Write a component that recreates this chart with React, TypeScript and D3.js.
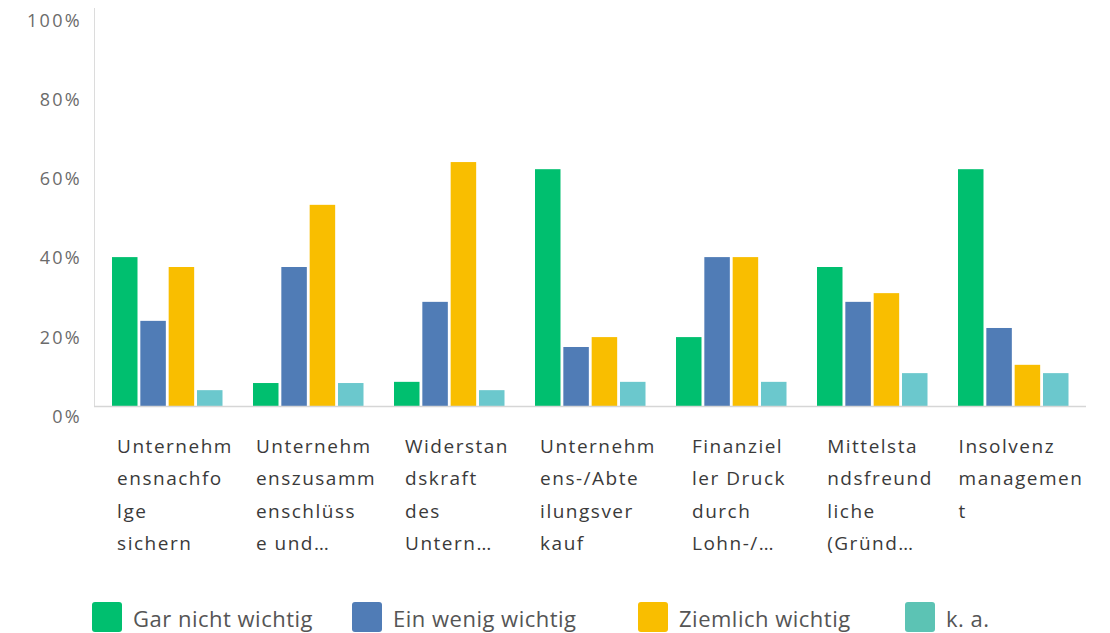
import React, { useEffect, useRef } from "react";
import * as d3 from "d3";

const categories: string[][] = [
  ["Unternehm", "ensnachfo", "lge", "sichern"],
  ["Unternehm", "enszusamm", "enschlüss", "e und…"],
  ["Widerstan", "dskraft", "des", "Untern…"],
  ["Unternehm", "ens-/Abte", "ilungsver", "kauf"],
  ["Finanziel", "ler Druck", "durch", "Lohn-/…"],
  ["Mittelsta", "ndsfreund", "liche", "(Gründ…"],
  ["Insolvenz", "managemen", "t"],
];

const seriesNames = ["Gar nicht wichtig", "Ein wenig wichtig", "Ziemlich wichtig", "k. a."];

const garNicht = [37.6, 5.8, 6.1, 59.8, 17.4, 35.1, 59.8];
const einWenig = [21.5, 35.1, 26.3, 14.9, 37.6, 26.3, 19.7];
const ziemlich = [35.1, 50.8, 61.6, 17.4, 37.6, 28.5, 10.4];
const keineAngabe = [4.0, 5.8, 4.0, 6.1, 6.1, 8.3, 8.3];

const yTicks = [0, 20, 40, 60, 80, 100];

const colors = ["#00BF6F", "#507CB6", "#F9BE00", "#6BC8CD"];
const legendColors = ["#00BF6F", "#507CB6", "#F9BE00", "#5CC3B4"];

export default function App() {
  const ref = useRef<SVGSVGElement | null>(null);

  useEffect(() => {
    const svg = d3.select(ref.current);
    svg.selectAll("*").remove();
    const font = "'Open Sans', sans-serif";

    const seriesValues = [garNicht, einWenig, ziemlich, keineAngabe];
    const keys = categories.map((_, i) => String(i));

    const x0 = d3.scaleBand<string>().domain(keys).range([94, 1081]).padding(0);
    const x1 = d3
      .scaleBand<string>()
      .domain(seriesNames)
      .range([0, 110.5])
      .paddingInner(0.1)
      .paddingOuter(0);
    const y = d3.scaleLinear().domain([0, 100]).range([406, 10]);

    const defs = svg.append("defs");
    defs
      .append("clipPath")
      .attr("id", "plotclip")
      .append("rect")
      .attr("x", 0)
      .attr("y", 0)
      .attr("width", 1086)
      .attr("height", 633);

    // y axis line
    svg
      .append("line")
      .attr("x1", 94.5)
      .attr("x2", 94.5)
      .attr("y1", y(100) - 2)
      .attr("y2", y(0))
      .attr("stroke", "#dcdcdc")
      .attr("stroke-width", 1);

    // y tick labels
    svg
      .append("g")
      .selectAll("text")
      .data(yTicks)
      .join("text")
      .attr("x", 82)
      .attr("y", (d) => y(d) + 12)
      .attr("text-anchor", "end")
      .attr("dominant-baseline", "middle")
      .attr("font-family", font)
      .attr("font-size", 18)
      .attr("letter-spacing", 2.3)
      .attr("fill", "#6b6b6b")
      .text((d) => `${d}%`);

    // bars
    const g = svg.append("g").attr("clip-path", "url(#plotclip)");
    const groups = g
      .selectAll("g.grp")
      .data(keys)
      .join("g")
      .attr("class", "grp")
      .attr("transform", (k) => `translate(${(x0(k) as number) + 18},0)`);

    groups
      .selectAll("rect")
      .data((k) =>
        seriesNames.map((s, j) => ({ s, j, v: seriesValues[j][+k] }))
      )
      .join("rect")
      .attr("x", (d) => x1(d.s) as number)
      .attr("width", x1.bandwidth())
      .attr("y", (d) => y(d.v))
      .attr("height", (d) => y(0) - y(d.v))
      .attr("fill", (d) => colors[d.j]);

    // baseline
    g.append("line")
      .attr("x1", 94)
      .attr("x2", 1087)
      .attr("y1", y(0) + 0.5)
      .attr("y2", y(0) + 0.5)
      .attr("stroke", "#d6d6d6")
      .attr("stroke-width", 1.5);

    // category labels
    const labels = g
      .selectAll("text.cat")
      .data(keys)
      .join("text")
      .attr("class", "cat")
      .attr("font-family", font)
      .attr("font-size", 19)
      .attr("letter-spacing", 1.5)
      .attr("fill", "#3a3a3a");

    labels.each(function (k) {
      const t = d3.select(this);
      const lines = categories[+k];
      lines.forEach((line, li) => {
        t.append("tspan").attr("y", 453 + li * 32.3).text(line);
      });
      let maxW = 0;
      t.selectAll<SVGTSpanElement, unknown>("tspan").each(function () {
        maxW = Math.max(maxW, this.getComputedTextLength());
      });
      const left = (x0(k) as number) + 81 - maxW / 2;
      t.selectAll("tspan").attr("x", left);
    });

    // legend
    const legendX = [92, 352, 638, 905];
    const lg = svg
      .append("g")
      .selectAll("g")
      .data(seriesNames)
      .join("g")
      .attr("transform", (_, i) => `translate(${legendX[i]},602)`);
    lg.append("rect")
      .attr("width", 30)
      .attr("height", 30)
      .attr("rx", 3)
      .attr("fill", (_, i) => legendColors[i]);
    lg.append("text")
      .attr("x", 41)
      .attr("y", 25)
      .attr("font-family", font)
      .attr("font-size", 22)
      .attr("letter-spacing", 0.5)
      .attr("fill", "#555")
      .text((d) => d);
  }, []);

  return (
    <svg
      ref={ref}
      width={1110}
      height={633}
      style={{ position: "absolute", left: 0, top: 0, background: "#fff" }}
    />
  );
}
